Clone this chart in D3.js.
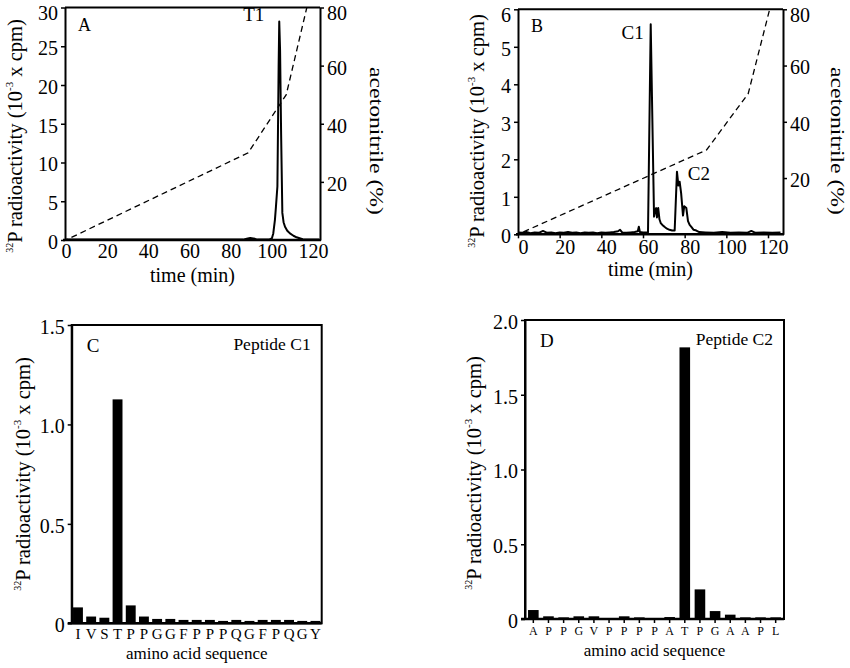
<!DOCTYPE html>
<html><head><meta charset="utf-8">
<script src="https://cdn.jsdelivr.net/npm/d3@7/dist/d3.min.js"></script>
<style>body{margin:0;background:#fff}</style>
</head><body>
<svg id="chart" width="850" height="668"></svg>
<script>
// ---------------- DATA ----------------
const timeTicks = [0, 20, 40, 60, 80, 100, 120];
const acnTicks = [20, 40, 60, 80];
const cpmTicksA = [0, 5, 10, 15, 20, 25, 30];
const cpmTicksB = [0, 1, 2, 3, 4, 5, 6];

// Panel A: HPLC trace
const traceA_time = [0, 10, 20, 30, 40, 50, 60, 70, 80, 86, 87.8, 89.5, 91, 91.8, 93, 97, 99, 100, 100.7, 101.5, 102, 102.7, 103.3, 103.6, 104, 104.5, 105.1, 105.7, 106.4, 107.5, 108.8, 110.5, 112, 115, 118, 123];
const traceA_cpm  = [0.05, 0.05, 0.05, 0.05, 0.08, 0.05, 0.05, 0.05, 0.05, 0.05, 0.15, 0.25, 0.2, 0.15, 0.05, 0.05, 0.1, 0.2, 0.85, 2.6, 4.3, 6.9, 22.4, 28.2, 24.5, 13.8, 3.5, 2.3, 1.7, 1.2, 0.85, 0.55, 0.35, 0.1, 0.05, 0.05];
const gradientA_time = [0, 88.5, 107, 117];
const gradientA_pct  = [0, 30, 50, 80];

// Panel B: HPLC trace
const traceB_time = [0, 2, 4, 6, 8, 10, 12, 14, 16, 18, 20, 22, 24, 26, 28, 30, 32, 34, 36, 38, 40, 42, 44, 46, 48, 49, 50, 52, 54, 56, 57.5, 58, 58.5, 60, 62, 62.4, 63.7, 65.3, 65.9, 66.3, 66.7, 67.3, 67.9, 68.5, 69.3, 70.3, 71.5, 72.7, 74, 75.2, 76.3, 77, 77.6, 78.3, 79.2, 79.8, 80.8, 81.6, 82.4, 83.2, 84.3, 85.6, 87, 90, 94, 98, 102, 106, 110, 112, 114, 118, 122, 126];
const traceB_cpm  = [0.05, 0.04, 0.06, 0.03, 0.05, 0.04, 0.09, 0.04, 0.05, 0.03, 0.05, 0.04, 0.06, 0.04, 0.05, 0.03, 0.05, 0.04, 0.05, 0.03, 0.05, 0.04, 0.05, 0.06, 0.08, 0.12, 0.05, 0.04, 0.05, 0.06, 0.08, 0.2, 0.06, 0.05, 0.05, 0.05, 5.6, 0.47, 0.65, 0.7, 0.45, 0.7, 0.4, 0.3, 0.25, 0.2, 0.15, 0.12, 0.1, 0.1, 1.67, 1.3, 1.4, 1.1, 0.5, 0.75, 0.7, 0.35, 0.25, 0.2, 0.12, 0.1, 0.06, 0.05, 0.04, 0.06, 0.04, 0.05, 0.04, 0.09, 0.04, 0.05, 0.04, 0.05];
const gradientB_time = [0, 90.5, 110.5, 120.8];
const gradientB_pct  = [0, 30, 50, 80];

// Panel C: peptide C1
const seqC1 = ["I","V","S","T","P","P","G","G","F","P","P","P","Q","G","F","P","Q","G","Y"];
const cpmC1 = [0.08, 0.034, 0.028, 1.126, 0.09, 0.034, 0.022, 0.022, 0.017, 0.017, 0.017, 0.012, 0.017, 0.012, 0.017, 0.017, 0.017, 0.012, 0.012];
const cpmTicksC = [0, 0.5, 1.0, 1.5];

// Panel D: peptide C2
const seqC2 = ["A","P","P","G","V","P","P","P","P","A","T","P","G","A","A","P","L"];
const cpmC2 = [0.06, 0.018, 0.011, 0.018, 0.018, 0.004, 0.018, 0.011, 0.004, 0.013, 1.817, 0.198, 0.053, 0.029, 0.011, 0.011, 0.011];
const cpmTicksD = [0, 0.5, 1.0, 1.5, 2.0];

// ---------------- DRAW ----------------
const svg = d3.select("#chart");
const FS = 20;

function styleAxis(g, domainW) {
  g.attr("font-family", null);
  g.select(".domain").attr("stroke", "#000").attr("stroke-width", domainW);
  g.selectAll(".tick line").attr("stroke", "#000").attr("stroke-width", 1.5);
  g.selectAll(".tick text").attr("fill", "#000");
}

function yTitle(x, yc) {
  const t = svg.append("text")
    .attr("transform", `translate(${x},${yc}) rotate(-90)`)
    .attr("text-anchor", "middle").attr("font-size", 20.5);
  t.append("tspan").attr("font-size", 10).attr("dy", -9).text("32");
  t.append("tspan").attr("dy", 9).text("P radioactivity (10");
  t.append("tspan").attr("font-size", 11).attr("dy", -9).text("-3");
  t.append("tspan").attr("dy", 9).text(" x cpm)");
}

function hplcPanel(o) {
  const x = d3.scaleLinear().domain(o.xDomain).range([o.left, o.right]);
  const y = d3.scaleLinear().domain([0, o.yMax]).range([o.bottom, o.top]);
  const y2 = d3.scaleLinear().domain([0, 80]).range([o.bottom, o.top]);

  svg.append("line").attr("x1", o.left).attr("x2", o.right).attr("y1", o.top).attr("y2", o.top)
    .attr("stroke", "#000").attr("stroke-width", 2);

  const grad = o.gTime.map((t, i) => [t, o.gPct[i]]);
  svg.append("path").datum(grad)
    .attr("d", d3.line().x(d => x(d[0])).y(d => y2(d[1])))
    .attr("fill", "none").attr("stroke", "#000").attr("stroke-width", 1.3)
    .attr("stroke-dasharray", "6,4").attr("stroke-dashoffset", 4);

  const tr = o.tTime.map((t, i) => [t, o.tCpm[i]]);
  svg.append("path").datum(tr)
    .attr("d", d3.line().x(d => x(d[0])).y(d => y(d[1])))
    .attr("fill", "none").attr("stroke", "#000").attr("stroke-width", 2).attr("stroke-linejoin", "round");

  const gl = svg.append("g").attr("transform", `translate(${o.left},0)`)
    .call(d3.axisLeft(y).tickValues(o.yTicks).tickFormat(d3.format("d")).tickSize(4).tickSizeOuter(0).tickPadding(3));
  gl.selectAll("text").attr("font-size", FS).attr("dy", d => d === o.yMax ? "0.62em" : "0.42em");
  styleAxis(gl, 2);

  const gr = svg.append("g").attr("transform", `translate(${o.right},0)`)
    .call(d3.axisRight(y2).tickValues(acnTicks).tickFormat(d3.format("d")).tickSize(4).tickSizeOuter(0).tickPadding(3));
  gr.selectAll("text").attr("font-size", FS).attr("dy", d => d === 80 ? "0.62em" : "0.42em");
  styleAxis(gr, 2);

  const gb = svg.append("g").attr("transform", `translate(0,${o.bottom})`)
    .call(d3.axisBottom(x).tickValues(timeTicks).tickFormat(d3.format("d")).tickSize(o.xTickSize).tickSizeOuter(0).tickPadding(o.xTickSize ? 2 : 4));
  gb.selectAll("text").attr("font-size", FS).attr("dx", o.xLabelDx);
  gb.select(".domain").attr("d", `M${o.left - 2},0H${o.right + 1}`);
  styleAxis(gb, 2.5);

  svg.append("text").attr("x", (o.left + o.right) / 2).attr("y", o.bottom + 42)
    .attr("text-anchor", "middle").attr("font-size", 20).text("time (min)");
  yTitle(o.yTitleX, o.yTitleY);
  svg.append("text").attr("transform", `translate(${o.acnX},141) rotate(90)`)
    .attr("text-anchor", "middle").attr("font-size", 19.5)
    .attr("textLength", 148).attr("lengthAdjust", "spacingAndGlyphs").text("acetonitrile (%)");

  svg.append("text").attr("x", o.left + 13).attr("y", o.top + 23).attr("font-size", 18).text(o.letter);
  o.peaks.forEach(p => {
    svg.append("text").attr("x", x(p.t) + p.dx).attr("y", y(p.v)).attr("text-anchor", p.anchor)
      .attr("font-size", 19).text(p.label);
  });
}

hplcPanel({
  left: 65, right: 320, top: 7.5, bottom: 240, xDomain: [-0.5, 123.4], yMax: 30,
  yTicks: cpmTicksA, tTime: traceA_time, tCpm: traceA_cpm, gTime: gradientA_time, gPct: gradientA_pct,
  xTickSize: 0, xLabelDx: 0, yTitleX: 22, yTitleY: 136, acnX: 370, letter: "A",
  peaks: [{ t: 103.6, v: 28.2, label: "T1", anchor: "end", dx: -15 }]
});
hplcPanel({
  left: 518, right: 783, top: 9.3, bottom: 234.3, xDomain: [0, 127.2], yMax: 6,
  yTicks: cpmTicksB, tTime: traceB_time, tCpm: traceB_cpm, gTime: gradientB_time, gPct: gradientB_pct,
  xTickSize: 4, xLabelDx: 5, yTitleX: 484, yTitleY: 131, acnX: 831, letter: "B",
  peaks: [{ t: 63.7, v: 5.2, label: "C1", anchor: "end", dx: -7 }, { t: 81.5, v: 1.45, label: "C2", anchor: "start", dx: 0 }]
});

function seqPanel(o) {
  const x = d3.scaleBand().domain(d3.range(o.seq.length)).range([o.left, o.right])
    .paddingInner(o.padIn).paddingOuter(o.padOut);
  const y = d3.scaleLinear().domain([0, o.yMax]).range([o.bottom, o.top]);

  svg.append("rect").attr("x", o.left).attr("y", o.top).attr("width", o.right - o.left).attr("height", o.bottom - o.top)
    .attr("fill", "none").attr("stroke", "#000").attr("stroke-width", 2);

  svg.append("g").selectAll("rect").data(o.vals).join("rect")
    .attr("x", (d, i) => x(i)).attr("width", x.bandwidth())
    .attr("y", d => y(d)).attr("height", d => o.bottom - y(d)).attr("fill", "#000");

  const gl = svg.append("g").attr("transform", `translate(${o.left},0)`)
    .call(d3.axisLeft(y).tickValues(o.yTicks).tickFormat(d => d === 0 ? "0" : d3.format(".1f")(d)).tickSize(4).tickSizeOuter(0).tickPadding(3));
  gl.selectAll("text").attr("font-size", FS).attr("dy", "0.42em");
  styleAxis(gl, 2);

  const gb = svg.append("g").attr("transform", `translate(0,${o.bottom})`)
    .call(d3.axisBottom(x).tickFormat(i => o.seq[i]).tickSize(o.xTickSize).tickSizeOuter(0).tickPadding(o.xPad));
  gb.selectAll("text").attr("font-size", o.seqFS);
  gb.select(".domain").attr("d", `M${o.left - 4},0H${o.right}`);
  styleAxis(gb, 2.5);

  svg.append("text").attr("x", (o.left + o.right) / 2).attr("y", o.xTitleY)
    .attr("text-anchor", "middle").attr("font-size", 17).text("amino acid sequence");
  yTitle(o.yTitleX, o.yTitleY);
  svg.append("text").attr("x", o.left + 15).attr("y", o.top + 27).attr("font-size", 19).text(o.letter);
  svg.append("text").attr("x", o.right - 11).attr("y", o.top + 25).attr("text-anchor", "end")
    .attr("font-size", 17.5).text(o.name);
}

seqPanel({
  left: 71.7, right: 321.7, top: 325, bottom: 623.3, yMax: 1.5, yTicks: cpmTicksC,
  seq: seqC1, vals: cpmC1, padIn: 0.25, padOut: 0.1, xTickSize: 0, xPad: 5, seqFS: 15,
  xTitleY: 659, yTitleX: 30, yTitleY: 474, letter: "C", name: "Peptide C1"
});
seqPanel({
  left: 525, right: 784, top: 320, bottom: 619, yMax: 2.0, yTicks: cpmTicksD,
  seq: seqC2, vals: cpmC2, padIn: 0.3, padOut: 0.2, xTickSize: 4, xPad: 3, seqFS: 12,
  xTitleY: 656, yTitleX: 481, yTitleY: 473, letter: "D", name: "Peptide C2"
});

// serif font, applied inline on every text
svg.selectAll("text").style("font-family", '"Liberation Serif", serif').attr("fill", "#000");
</script>
</body></html>
